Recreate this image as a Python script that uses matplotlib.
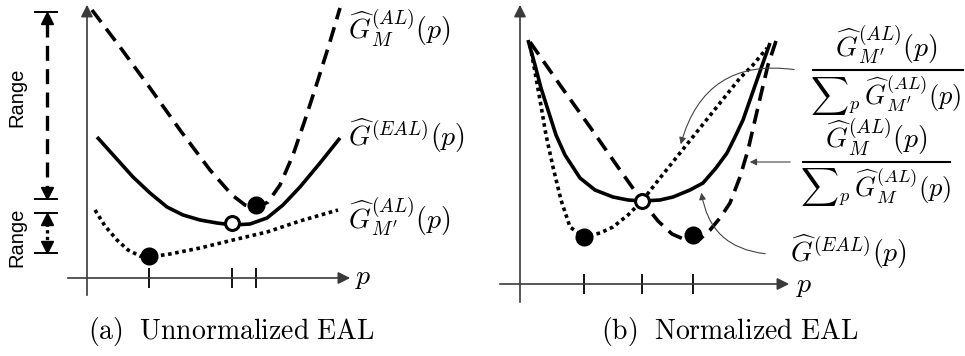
"""Sketch of unnormalized vs normalized EAL curves (two panels)."""

import matplotlib

matplotlib.use("Agg")
import matplotlib.pyplot as plt

plt.rcParams["mathtext.fontset"] = "cm"

# ---- panel (a): unnormalized, coordinates relative to the axes origin ----
a_gm_x = [5, 33, 63, 93, 123, 145, 158, 169, 181, 193, 206, 218, 230, 242, 253]
a_gm_y = [268, 231, 190, 148, 108, 83, 73, 70, 76, 93, 123, 158, 195, 233, 270]
a_eal_x = [10, 28, 46, 63, 80, 96, 113, 130, 146, 163, 180, 196, 213, 233, 253]
a_eal_y = [141, 121, 101, 85, 71, 63, 58, 55, 53, 54, 60, 73, 91, 115, 140]
a_gmp_x = [8, 18, 30, 41, 53, 63, 83, 113, 146, 180, 213, 251]
a_gmp_y = [68, 52, 38, 28, 22, 21, 24, 30, 38, 46, 57, 68]
a_min_x = [62, 169]
a_min_y = [22, 73]
a_eal_min = (145, 55)
a_ticks = [62, 145, 169]
a_range_top = (266, 79)
a_range_bot = (65, 25)

# ---- panel (b): normalized ----
b_gm_x = [10, 40, 70, 100, 122, 138, 152, 168, 180, 190, 200, 210, 220, 228,
          235, 242, 248, 258]
b_gm_y = [242, 199, 157, 114, 83, 63, 50, 43, 45, 54, 66, 81, 107, 134,
          164, 194, 219, 249]
b_eal_x = [8, 15, 21, 28, 36, 45, 60, 75, 93, 108, 123, 140, 153, 170, 183,
           196, 207, 215, 223, 230, 237, 244, 250]
b_eal_y = [244, 219, 196, 174, 149, 129, 106, 94, 87, 84, 83, 84, 87, 94, 101,
           116, 131, 147, 164, 184, 204, 224, 241]
b_gmp_x = [10, 15, 20, 26, 33, 41, 50, 64, 80, 93, 108, 122, 140, 160, 180,
           200, 220, 233, 247]
b_gmp_y = [239, 212, 184, 149, 117, 84, 57, 47, 51, 57, 69, 83, 106, 131, 156,
           181, 206, 219, 236]
b_min_x = [64, 173]
b_min_y = [47, 49]
b_eal_min = (122, 83)
b_ticks = [64, 122, 173]

LBL_GM = r"$\widehat{G}_M^{(AL)}(p)$"
LBL_EAL = r"$\widehat{G}^{(EAL)}(p)$"
LBL_GMP = r"$\widehat{G}_{M'}^{(AL)}(p)$"
SUM_GM = r"${\sum}_p\,\widehat{G}_M^{(AL)}(p)$"
SUM_GMP = r"${\sum}_p\,\widehat{G}_{M'}^{(AL)}(p)$"

LW = 2.6
AXC = "#3a3a3a"


def draw_axes(ax, x0, x1, y0, y1, ticks):
    arrow = dict(arrowstyle="-|>", color=AXC, lw=1.2, mutation_scale=18)
    ax.annotate("", xy=(x1, 0), xytext=(x0, 0), arrowprops=arrow)
    ax.annotate("", xy=(0, y1), xytext=(0, y0), arrowprops=arrow)
    ax.vlines(ticks, -10, 10, color="black", lw=1.3)


def draw_curves(ax, gm, eal, gmp, mins, open_pt):
    ax.plot(*gm, color="black", lw=LW, dashes=(4.2, 2.3))
    ax.plot(*eal, color="black", lw=LW, solid_capstyle="butt")
    ax.plot(*gmp, color="black", lw=LW, dashes=(1, 1))
    ax.plot(*mins, "o", color="black", ms=12, zorder=5)
    ax.plot(*open_pt, "o", mfc="white", mec="black", mew=2.2, ms=10, zorder=6)


fig = plt.figure(figsize=(9.65, 3.56), dpi=100)

axL = fig.add_axes([0, 56 / 356, 480 / 965, 300 / 356])
axL.set_xlim(-87, 393)
axL.set_ylim(-22, 278)
axL.axis("off")
draw_axes(axL, -22, 266, -20, 276, a_ticks)
draw_curves(axL, (a_gm_x, a_gm_y), (a_eal_x, a_eal_y), (a_gmp_x, a_gmp_y),
            (a_min_x, a_min_y), a_eal_min)
axL.text(268, 1, r"$p$", fontsize=20, va="center", ha="left")
axL.text(261, 250, LBL_GM, fontsize=20, va="center", ha="left")
axL.text(261, 142, LBL_EAL, fontsize=20, va="center", ha="left")
axL.text(261, 61, LBL_GMP, fontsize=20, va="center", ha="left")

# "Range" brackets on the left
for lvl in a_range_top + a_range_bot:
    axL.plot([-52, -30], [lvl, lvl], color="black", lw=1.4, clip_on=False)
for (top, bot), style in [(a_range_top, (4.5, 2.5)), (a_range_bot, (1, 1))]:
    axL.plot([-40, -40], [top - 10, bot + 10], color="black", lw=2.4,
             dashes=style, clip_on=False)
    axL.plot(-40, top - 6, "^", color="black", ms=9, clip_on=False)
    axL.plot(-40, bot + 6, "v", color="black", ms=9, clip_on=False)
axL.text(-70, 181, "Range", rotation=90, fontsize=14.5, family="Liberation Sans",
         ha="center", va="center")
axL.text(-70, 41, "Range", rotation=90, fontsize=14.5, family="Liberation Sans",
         ha="center", va="center")

axR = fig.add_axes([480 / 965, 46 / 356, 485 / 965, 310 / 356])
axR.set_xlim(-40, 445)
axR.set_ylim(-26, 284)
axR.axis("off")
draw_axes(axR, -23, 272, -21, 282, b_ticks)
draw_curves(axR, (b_gm_x, b_gm_y), (b_eal_x, b_eal_y), (b_gmp_x, b_gmp_y),
            (b_min_x, b_min_y), b_eal_min)
axR.text(276, -1, r"$p$", fontsize=20, va="center", ha="left")

# fractions on the right
for num, den, cx, yl, x0, x1 in [(LBL_GMP, SUM_GMP, 366, 214, 293, 443),
                                  (LBL_GM, SUM_GM, 356, 122, 283, 430)]:
    axR.text(cx, yl + 4, num, fontsize=20, ha="center", va="bottom")
    axR.plot([x0, x1], [yl, yl], color="black", lw=1.5, clip_on=False)
    axR.text(cx, yl - 4, den, fontsize=19, ha="center", va="top")
axR.text(328, 32, LBL_EAL, fontsize=20, ha="center", va="center")

thin = dict(arrowstyle="-|>", color="#444444", lw=0.8, mutation_scale=10)
axR.annotate("", xy=(160, 137), xytext=(277, 214),
             arrowprops=dict(thin, connectionstyle="arc3,rad=0.45"))
axR.annotate("", xy=(227, 122), xytext=(273, 122), arrowprops=thin)
axR.annotate("", xy=(181, 94), xytext=(248, 30),
             arrowprops=dict(thin, connectionstyle="arc3,rad=-0.4"))

fig.text(231 / 965, 1 - 331 / 356, r"$\mathrm{(a)\ \ Unnormalized\ EAL}$",
         fontsize=20, ha="center", va="center")
fig.text(730 / 965, 1 - 331 / 356, r"$\mathrm{(b)\ \ Normalized\ EAL}$",
         fontsize=20, ha="center", va="center")

fig.savefig("out.png", dpi=100)
